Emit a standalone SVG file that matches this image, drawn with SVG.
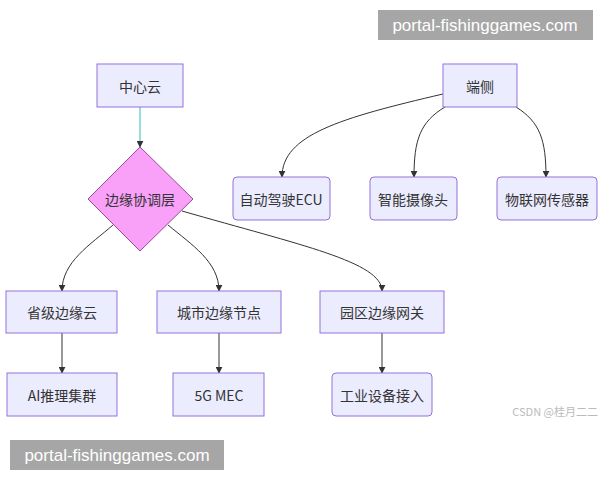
<svg xmlns="http://www.w3.org/2000/svg" width="600" height="480" viewBox="0 0 600 480">
<style>
.n{fill:#ECECFF;stroke:#9370DB;stroke-width:1}
.t{font-family:"Noto Sans CJK SC","Liberation Sans",sans-serif;font-size:14px;fill:#333;text-anchor:middle;dominant-baseline:central}
.e{fill:none;stroke:#333;stroke-width:1}
.wm{font-family:"Liberation Sans",sans-serif;font-size:17px;fill:#fff;text-anchor:middle}
</style>
<defs>
<marker id="a" viewBox="0 0 10 10" refX="9" refY="5" markerWidth="7" markerHeight="7" orient="auto"><path d="M0,0L10,5L0,10z" fill="#333"/></marker>
</defs>
<rect width="600" height="480" fill="#fff"/>
<g id="connectors">
<path class="e" d="M140,107V147" style="stroke:#2cc0c0" marker-end="url(#a)"/>
<path class="e" d="M443,94C340,118 282,135 282,177" marker-end="url(#a)"/>
<path class="e" d="M445,107C420,122 414,140 414,177" marker-end="url(#a)"/>
<path class="e" d="M516,107C540,122 546,140 546,177" marker-end="url(#a)"/>
<path class="e" d="M113,225C90,245 62,262 62,291" marker-end="url(#a)"/>
<path class="e" d="M168,225C192,245 219,262 219,291" marker-end="url(#a)"/>
<path class="e" d="M182,211C300,245 382,262 382,291" marker-end="url(#a)"/>
<path class="e" d="M62,333V373" marker-end="url(#a)"/>
<path class="e" d="M219,333V373" marker-end="url(#a)"/>
<path class="e" d="M382,333V373" marker-end="url(#a)"/>
</g>
<g id="n1"><rect class="n" x="97" y="64" width="86" height="43"/><text class="t" x="140" y="86">中心云</text></g>
<g id="n2"><rect class="n" x="443" y="64" width="74" height="43"/><text class="t" x="480" y="86">端侧</text></g>
<g id="n3"><path d="M140,147L193,199L140,251L88,199z" fill="#f9a0f9" stroke="#9b4a9b"/><text class="t" x="140" y="199">边缘协调层</text></g>
<g id="n4"><rect class="n" x="233" y="177" width="97" height="43" rx="4"/><text class="t" x="281" y="199">自动驾驶ECU</text></g>
<g id="n5"><rect class="n" x="370" y="177" width="87" height="43" rx="4"/><text class="t" x="413" y="199">智能摄像头</text></g>
<g id="n6"><rect class="n" x="497" y="177" width="100" height="43" rx="4"/><text class="t" x="547" y="199">物联网传感器</text></g>
<g id="n7"><rect class="n" x="6" y="291" width="111" height="42"/><text class="t" x="62" y="312">省级边缘云</text></g>
<g id="n8"><rect class="n" x="157" y="291" width="124" height="42"/><text class="t" x="219" y="312">城市边缘节点</text></g>
<g id="n9"><rect class="n" x="320" y="291" width="124" height="42"/><text class="t" x="382" y="312">园区边缘网关</text></g>
<g id="n10"><rect class="n" x="7" y="373" width="110" height="43"/><text class="t" x="62" y="395">AI推理集群</text></g>
<g id="n11"><rect class="n" x="173" y="373" width="91" height="43"/><text class="t" x="219" y="395">5G MEC</text></g>
<g id="n12"><rect class="n" x="332" y="373" width="100" height="43" rx="4"/><text class="t" x="382" y="395">工业设备接入</text></g>
<text x="598" y="416" font-family="Noto Sans CJK SC,Liberation Sans,sans-serif" font-size="11" fill="#bbb" text-anchor="end">CSDN @桂月二二</text>
<rect x="378" y="10" width="215" height="30" fill="#a6a6a6"/><text class="wm" x="485" y="31">portal-fishinggames.com</text>
<rect x="10" y="440" width="214" height="30" fill="#a6a6a6"/><text class="wm" x="117" y="461">portal-fishinggames.com</text>
</svg>
